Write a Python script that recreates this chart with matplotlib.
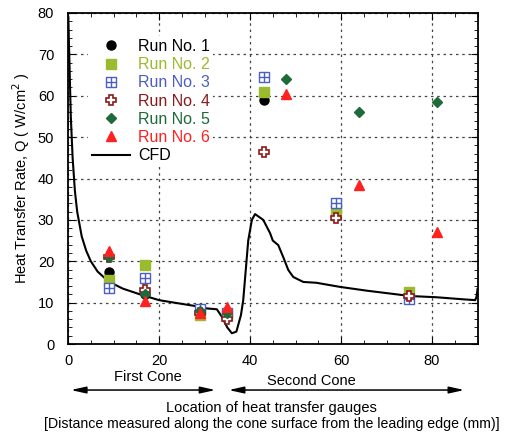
import matplotlib
matplotlib.use('Agg')
import matplotlib.pyplot as plt
from matplotlib.ticker import MultipleLocator

plt.rcParams['font.family'] = ['Liberation Sans', 'DejaVu Sans']

# gauge locations (mm) and measured heat transfer rate (W/cm^2)
run1_x = [9, 17, 29, 35, 43, 59, 75]
run1_q = [17.5, 12, 8, 7, 59, 31.5, 12]
run2_x = [9, 17, 29, 35, 43, 59, 75]
run2_q = [15.5, 19, 7, 7, 61, 32.5, 12.5]
run3_x = [9, 17, 29, 35, 43, 59, 75]
run3_q = [13.5, 16, 8.5, 7.5, 64.5, 34, 11]
run4_x = [9, 17, 29, 35, 43, 59, 75]
run4_q = [21, 13, 7.5, 6, 46.5, 30.5, 11.5]
run5_x = [9, 17, 29, 35, 48, 64, 81]
run5_q = [21, 12, 8, 7.5, 64, 56, 58.5]
run6_x = [9, 17, 29, 35, 48, 64, 81]
run6_q = [22.5, 10.5, 7.5, 9, 60.5, 38.5, 27]

# CFD curve
cfd_x = [0.05, 0.3, 0.6, 1.0, 1.5, 2, 3, 4, 5, 6.5, 8.5, 10, 12, 15.8, 20, 25, 29,
         30.5, 32.7, 33.8, 35, 36, 37, 38, 38.5, 39.6, 40.4, 41.1, 42.9, 44.4, 45,
         46.2, 47.3, 48.4, 49.5, 51.7, 54.6, 59.8, 65.6, 75.2, 81, 86.9, 89.5, 89.8, 90]
cfd_q = [79, 68, 55, 45, 37, 32, 26, 22.5, 20, 17.5, 15.5, 14.5, 13.4, 12, 10.6, 9.7, 9,
         8.6, 8.4, 6.6, 4, 2.6, 3, 7, 10.6, 25, 30, 31.4, 30, 26.8, 25,
         23.9, 21, 17.9, 16.2, 15, 14.8, 13.8, 12.9, 11.6, 11.3, 10.8, 10.6, 11.5, 13.3]

c2 = '#9bbb2f'
c3 = '#4a5fbf'
c4 = '#8b1a1a'
c5 = '#1e6b3a'
c6 = '#ff2020'
FS = 10

fig = plt.figure(figsize=(5.08, 4.33), dpi=100)
ax = fig.add_axes([0.134, 0.2055, 0.806, 0.7645])

h1, = ax.plot(run1_x, run1_q, 'o', color='black', ms=6.5, ls='none', zorder=3)
h2, = ax.plot(run2_x, run2_q, 's', color=c2, ms=7, ls='none', zorder=3)
h3a, = ax.plot(run3_x, run3_q, 's', mfc='white', mec=c3, ms=7.5, mew=1, ls='none', zorder=3)
h3b, = ax.plot(run3_x, run3_q, '+', color=c3, ms=7.5, mew=1, ls='none', zorder=3)
h4, = ax.plot(run4_x, run4_q, 'P', mfc='white', mec=c4, ms=7, mew=1.2, ls='none', zorder=3)
h5, = ax.plot(run5_x, run5_q, 'D', color=c5, ms=5.5, ls='none', zorder=3)
h6, = ax.plot(run6_x, run6_q, '^', color=c6, ms=7.5, ls='none', zorder=3)
hc, = ax.plot(cfd_x, cfd_q, '-', color='black', lw=1.5, zorder=2)

ax.set_xlim(0, 90)
ax.set_ylim(0, 80)
ax.xaxis.set_major_locator(MultipleLocator(20))
ax.xaxis.set_minor_locator(MultipleLocator(5))
ax.yaxis.set_major_locator(MultipleLocator(10))
ax.yaxis.set_minor_locator(MultipleLocator(2))
ax.tick_params(which='both', direction='in', top=True, right=True, labelsize=FS + 0.5)
ax.tick_params(which='major', length=5)
ax.tick_params(which='minor', length=3)
ax.tick_params(axis='x', pad=7)
ax.tick_params(axis='y', pad=10)
ax.grid(True, which='major', ls=(0, (2, 3)), color='#444444', lw=0.9)
for s in ax.spines.values():
    s.set_linewidth(1.3)

ax.set_ylabel('Heat Transfer Rate, Q ( W/cm$^2$ )', fontsize=FS + 0.5, labelpad=4)

leg = ax.legend([h1, h2, (h3a, h3b), h4, h5, h6, hc],
                ['Run No. 1', 'Run No. 2', 'Run No. 3', 'Run No. 4', 'Run No. 5', 'Run No. 6', 'CFD'],
                loc='upper left', bbox_to_anchor=(0.03, 0.955), frameon=True, facecolor='white',
                edgecolor='none', framealpha=1, fancybox=False, fontsize=FS + 1.5,
                handlelength=2.4, handletextpad=0.5, labelspacing=0.2, borderpad=0.2)
leg.set_zorder(5)
for t, c in zip(leg.get_texts(), ['black', c2, c3, c4, c5, c6, 'black']):
    t.set_color(c)

tr = ax.get_xaxis_transform()
ax.annotate('', xy=(0, -0.139), xytext=(33, -0.139), xycoords=tr, textcoords=tr,
            arrowprops=dict(arrowstyle='<|-|>,head_length=0.9,head_width=0.2', color='black', lw=1.1),
            annotation_clip=False)
ax.annotate('', xy=(34.7, -0.139), xytext=(87.7, -0.139), xycoords=tr, textcoords=tr,
            arrowprops=dict(arrowstyle='<|-|>,head_length=0.9,head_width=0.2', color='black', lw=1.1),
            annotation_clip=False)
ax.text(17.5, -0.10, 'First Cone', transform=tr, ha='center', va='center', fontsize=FS + 0.5)
ax.text(53.5, -0.112, 'Second Cone', transform=tr, ha='center', va='center', fontsize=FS + 0.5)

fig.text(0.535, 1 - 408 / 433, 'Location of heat transfer gauges', ha='center', va='center', fontsize=FS + 0.5)
fig.text(0.535, 1 - 424 / 433, '[Distance measured along the cone surface from the leading edge (mm)]',
         ha='center', va='center', fontsize=FS + 0.2)

fig.savefig('out.png', dpi=100)
